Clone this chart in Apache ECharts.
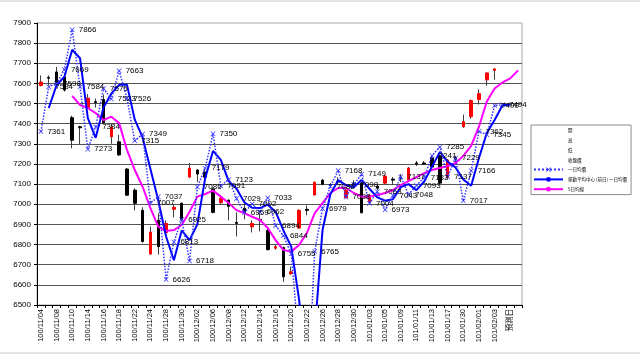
<!DOCTYPE html>
<html><head><meta charset="utf-8">
<script src="https://cdn.jsdelivr.net/npm/echarts@6/dist/echarts.min.js"></script>
<style>html,body{margin:0;padding:0;background:#fff}#c{width:640px;height:355px}</style>
</head><body><div id="c"></div>
<script>
// ---- data ----
const categories = [
 '100/11/04','100/11/07','100/11/08','100/11/09','100/11/10','100/11/11','100/11/14','100/11/15','100/11/16','100/11/17',
 '100/11/18','100/11/21','100/11/22','100/11/23','100/11/24','100/11/25','100/11/28','100/11/29','100/11/30','100/12/01',
 '100/12/02','100/12/05','100/12/06','100/12/07','100/12/08','100/12/09','100/12/12','100/12/13','100/12/14','100/12/15',
 '100/12/16','100/12/19','100/12/20','100/12/21','100/12/22','100/12/23','100/12/26','100/12/27','100/12/28','100/12/29',
 '100/12/30','101/01/02','101/01/03','101/01/04','101/01/05','101/01/06','101/01/09','101/01/10','101/01/11','101/01/12',
 '101/01/13','101/01/16','101/01/17','101/01/18','101/01/30','101/01/31','101/02/01','101/02/02','101/02/03','101/02/06',
 '預測日','　'];
const openP  = [7590,7630,7657,7632,7430,7385,7478,7510,7520,7335, 7310,7175,7070,6970,6753,6920,6860,6975,7005,7135,
                7170,7160,7075,7008,7020,6910,6980,6888,6925,6870, 6782,6785,6655,6882,6975,7046,7120,7097,7115,7032,
                7105,7105,7012,7090,7105,7125,7135,7120,7205,7205, 7230,7240,7135,7230,7385,7435,7520,7618,7665];
const closeP = [7607,7626,7602,7567,7318,7380,7527,7505,7405,7383, 7245,7045,7005,6815,6862,6790,6905,6985,6925,7180,
                7150,7135,6960,7030,6990,6905,6958,6905,6920,6775, 6790,6640,6665,6970,6970,7110,7100,7095,7110,7070,
                7088,6958,7045,7080,7140,7120,7130,7180,7200,7200, 7185,7105,7220,7225,7410,7515,7550,7652,7672];
const lowP   = [7585,7590,7595,7560,7278,7295,7475,7480,7400,7300, 7240,7045,6970,6810,6750,6750,6850,6935,6920,7130,
                7110,7125,6955,7000,6920,6840,6925,6860,6865,6770, 6775,6615,6650,6880,6945,7045,7095,7085,7095,7030,
                7080,6955,7010,7070,7100,7095,7110,7115,7190,7195, 7180,7100,7130,7200,7380,7425,7495,7588,7618];
const highP  = [7640,7640,7682,7652,7440,7390,7547,7525,7545,7400, 7345,7180,7080,6985,6890,6955,6920,7000,7010,7205,
                7175,7175,7085,7040,7025,6960,7005,6920,6955,6880, 6800,6790,6690,6975,6995,7112,7125,7105,7135,7075,
                7120,7110,7050,7100,7145,7135,7150,7185,7215,7215, 7240,7245,7225,7240,7445,7520,7570,7655,7675];
// 一日均價 (dotted, labelled)
const dayAvg = [7361,7584,7598,7669,7866,7584,7273,7384,7575,7523, 7663,7526,7315,7349,7007,7037,6626,6813,6925,6718,
                7086,7179,7350,7091,7123,7029,6959,7002,6962,7033, 6894,6844,6755,6300,5961,6765,6979,7088,7168,7038,
                7098,7149,7004,7063,6973,7043,7137,7048,7093,7133, 7241,7285,7137,7229,7017,7166,7362,7345,7490,7494];
// 中心線 (solid blue)
const centerAvg = [null,7478,7591,7633,7767,7725,7428,7330,7480,7549, 7593,7594,7420,7332,7175,7020,6840,6722,6870,6822,
                6900,7130,7265,7220,7115,7078,7010,6983,6981,6998, 6963,6870,6790,6528,6130,6363,6872,7050,7120,7095,
                7085,7120,7077,7034,7018,7025,7085,7100,7070,7113, 7187,7260,7211,7183,7123,7092,7230,7354,7418,7492,
                7494,null];
// 日均線 (magenta)
const maAvg = [null,null,null,null,7538,7493,7478,7453,7418,7435, 7403,7270,7170,7087,6981,6889,6867,6872,6897,6963,
                7038,7051,7068,7038,7006,6971,6956,6938,6922,6882, 6822,6773,6765,6798,6857,6956,7006,7056,7081,7081,
                7056,7038,7038,7046,7056,7071,7095,7115,7135,7155, 7170,7180,7190,7205,7240,7290,7385,7510,7575,7605,
                7625,7665];
const yMin = 6500, yMax = 7900, yStep = 100;
const legendNames = ['開','高','低','收盤價','一日均價','移動平均中心 (前日) 一日均價','5日均線'];

// ---- chart ----
const chart = echarts.init(document.getElementById('c'), null, {renderer:'canvas'});
const xSym = 'path://M0,1L1,0L5,4L9,0L10,1L6,5L10,9L9,10L5,6L1,10L0,9L4,5Z';
const wickData = openP.map((o,i)=>[o, closeP[i], lowP[i], highP[i]]);
const bodyData = openP.map((o,i)=>[o, closeP[i], Math.min(o,closeP[i]), Math.max(o,closeP[i])]);
const dummy = n => ({name:n, type:'line', data:[], symbol:'none',
  itemStyle:{color:'rgba(0,0,0,0)'}, lineStyle:{color:'rgba(0,0,0,0)', width:0}});
const fontF = 'Liberation Sans, Noto Sans CJK TC, sans-serif';

chart.setOption({
  animation:false,
  backgroundColor:'#fff',
  textStyle:{fontFamily:fontF},
  graphic:[{type:'rect', z:-10, silent:true, shape:{x:-2, y:1, width:644, height:352},
            style:{fill:'none', stroke:'#c8c8c8', lineWidth:1}}],
  grid:{left:37, right:118, top:23, bottom:50, show:true, borderColor:'#a8a8a8', borderWidth:1, backgroundColor:'#fff'},
  legend:{
    orient:'vertical', left:531, top:125, padding:[3,4,3,2], itemGap:5, itemWidth:29, itemHeight:6,
    borderColor:'#8c8c8c', borderWidth:1, backgroundColor:'#fff', borderRadius:0,
    textStyle:{fontSize:4.5, color:'#000', fontFamily:'Noto Sans CJK TC'},
    data: legendNames.map(n=>({name:n}))
  },
  xAxis:{
    type:'category', data:categories, boundaryGap:true,
    axisLine:{lineStyle:{color:'#000', width:1}},
    axisTick:{show:true, interval:0, length:3, lineStyle:{color:'#000'}},
    axisLabel:{interval:1, rotate:90, fontSize:7.5, color:'#000', margin:4, fontFamily:fontF},
    splitLine:{show:false}
  },
  yAxis:{
    type:'value', min:yMin, max:yMax, interval:yStep,
    axisLine:{show:true, lineStyle:{color:'#000'}},
    axisTick:{show:true, length:3, lineStyle:{color:'#000'}},
    axisLabel:{fontSize:8, color:'#000', margin:6, fontFamily:fontF, formatter: v => String(v)},
    splitLine:{show:true, showMaxLine:false, lineStyle:{color:'#555', width:1}}
  },
  series:[
    dummy('開'), dummy('高'), dummy('低'), dummy('收盤價'),
    {name:'hl', type:'candlestick', data:wickData, barWidth:1, silent:true,
     itemStyle:{color:'#404040', color0:'#404040', borderColor:'#404040', borderColor0:'#404040', borderWidth:1}},
    {name:'body', type:'candlestick', data:bodyData, barWidth:3, silent:true,
     itemStyle:{color:'#ff0000', color0:'#000000', borderColor:'#ff0000', borderColor0:'#000000', borderWidth:1}},
    {name:legendNames[6], type:'line', data:maAvg, symbol:'none',
     lineStyle:{color:'#ff00ff', width:2}, itemStyle:{color:'#ff00ff'}},
    {name:legendNames[5], type:'line', data:centerAvg, symbol:'none',
     lineStyle:{color:'#0000ff', width:2}, itemStyle:{color:'#0000ff'}},
    {name:legendNames[4], type:'line', data:dayAvg, symbol:xSym, symbolSize:5,
     lineStyle:{color:'#3333ff', width:1.5, type:'dotted'}, itemStyle:{color:'#3333ff'},
     label:{show:true, position:'right', distance:4, fontSize:8, color:'#000', fontFamily:fontF}}
  ]
});
</script></body></html>
